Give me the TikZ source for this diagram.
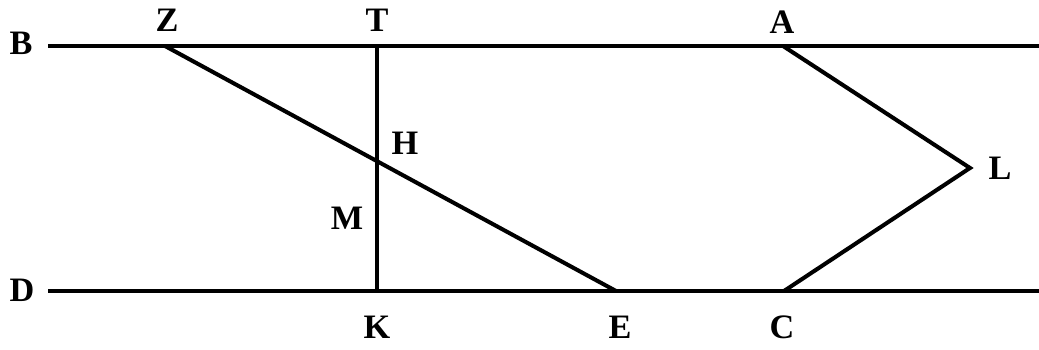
\documentclass[tikz,border=0pt]{standalone}
\usepackage{fontspec}
\setmainfont{Liberation Serif}
\usetikzlibrary{positioning}

\tikzset{
  seg/.style={line width=2.3pt},
  lbl/.style={font=\fontsize{19.5}{22}\selectfont\bfseries, inner sep=0pt}
}

\begin{document}
\begin{tikzpicture}[x=0.02cm,y=-0.02cm]
        \useasboundingbox (0,0) rectangle (1039,350);
        % points
        \coordinate (b) at (48,46);
        \coordinate (bend) at (1039,46);
        \coordinate (d) at (48,291);
        \coordinate (dend) at (1039,291);
        \coordinate (z) at (165,46);
        \coordinate (t) at (377,46);
        \coordinate (a) at (783,46);
        \coordinate (k) at (377,291);
        \coordinate (e) at (616,291);
        \coordinate (c) at (784,291);
        \coordinate (l) at (970,168);
        \coordinate (h) at (377,160);
        % lines
        \draw[seg] (b) -- (bend);
        \draw[seg] (d) -- (dend);
        \draw[seg] (t) -- (k);
        \draw[seg] (z) -- (e);
        \draw[seg,line join=miter] (a) -- (l) -- (c);
        % letters
        \node[lbl] (lB) at (21,43) {B};
        \node[lbl] (lD) at (22,290) {D};
        \node[lbl] (lZ) at (167,20) {Z};
        \node[lbl] (lT) at (377,20) {T};
        \node[lbl] (lA) at (782,22) {A};
        \node[lbl] (lH) at (405,143) {H};
        \node[lbl] (lM) at (347,218) {M};
        \node[lbl] (lL) at (1000,168) {L};
        \node[lbl] (lK) at (377,327) {K};
        \node[lbl] (lE) at (620,327) {E};
        \node[lbl] (lC) at (782,327) {C};
\end{tikzpicture}
\end{document}
